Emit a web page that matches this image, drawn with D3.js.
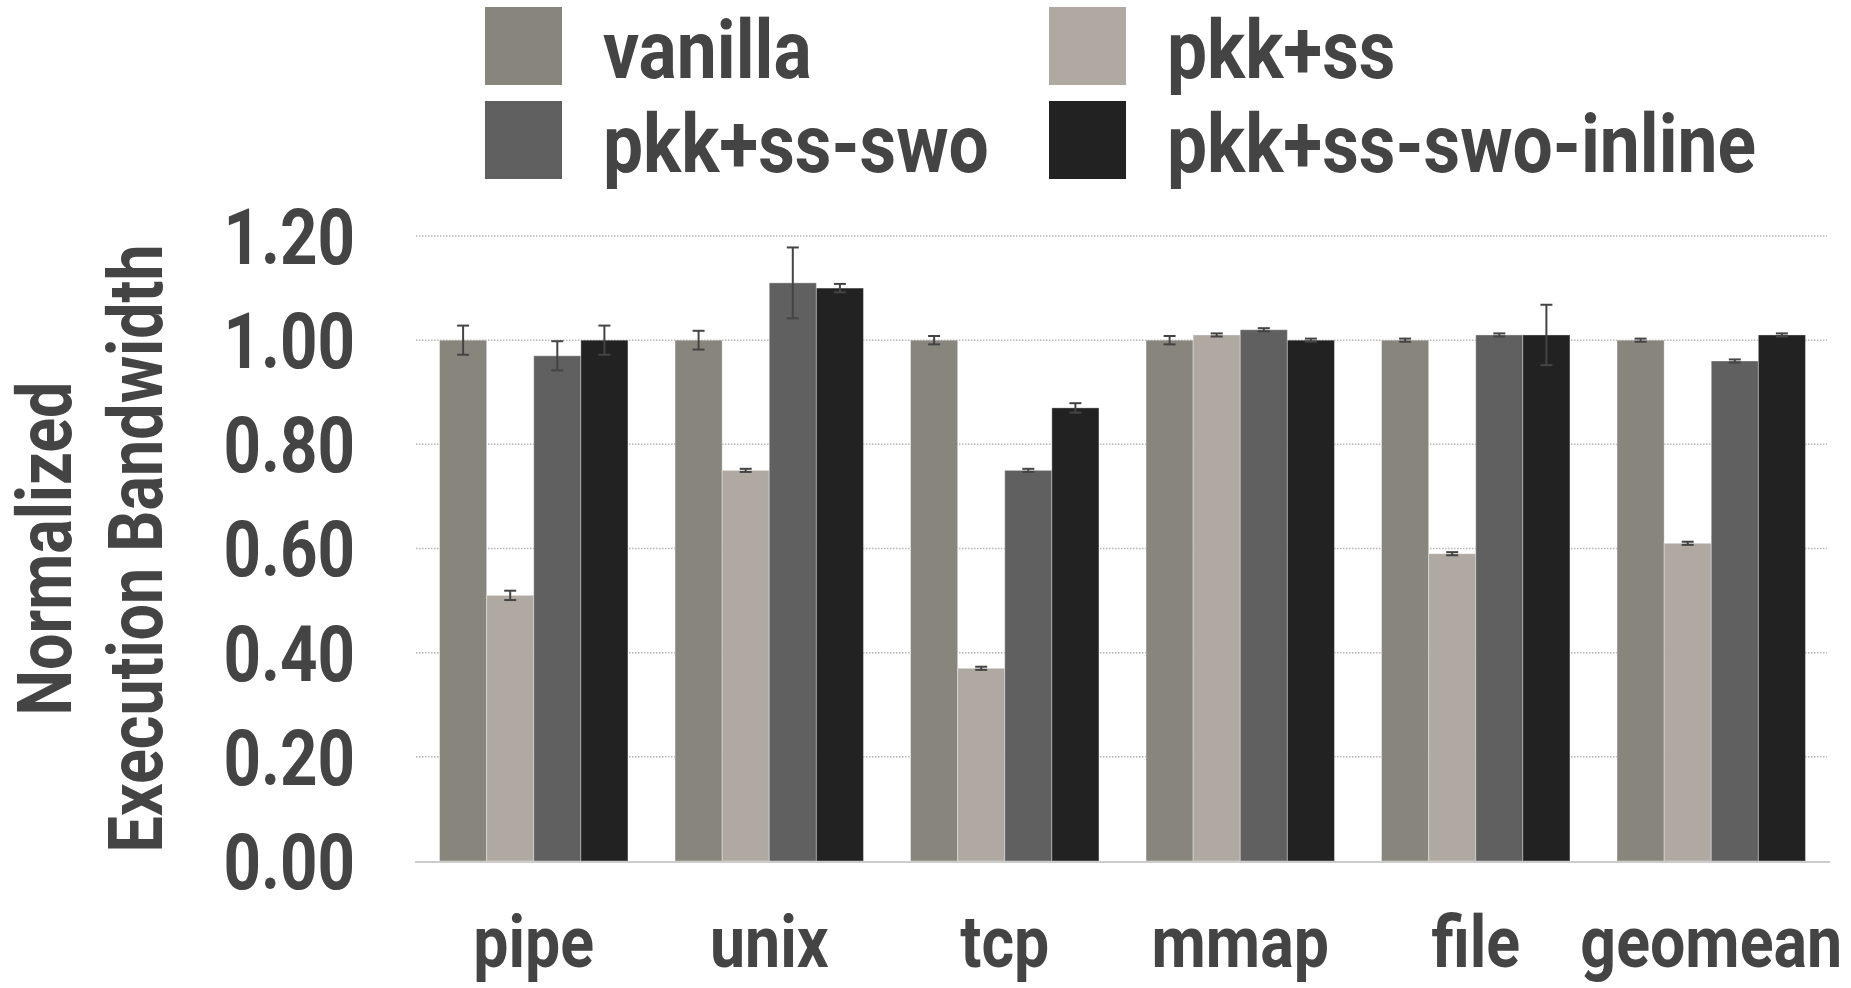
<!DOCTYPE html>
<html>
<head>
<meta charset="utf-8">
<script src="https://cdn.jsdelivr.net/npm/d3@7"></script>
<style>
  body { margin: 0; background: #fff; }
  text { font-family: Roboto, "Liberation Sans", sans-serif; font-weight: bold; fill: #444; }
</style>
</head>
<body>
<div id="chart"></div>
<script>
const categories = ['pipe', 'unix', 'tcp', 'mmap', 'file', 'geomean'];
const seriesNames = ['vanilla', 'pkk+ss', 'pkk+ss-swo', 'pkk+ss-swo-inline'];
const seriesColors = ['#88857d', '#afa9a2', '#606060', '#222222'];

const vanilla = [1.00, 1.00, 1.00, 1.00, 1.00, 1.00];
const pkkSs = [0.51, 0.75, 0.37, 1.01, 0.59, 0.61];
const pkkSsSwo = [0.97, 1.11, 0.75, 1.02, 1.01, 0.96];
const pkkSsSwoInline = [1.00, 1.10, 0.87, 1.00, 1.01, 1.01];

const vanillaErr = [0.028, 0.018, 0.008, 0.008, 0.003, 0.003];
const pkkSsErr = [0.009, 0.003, 0.003, 0.003, 0.003, 0.003];
const pkkSsSwoErr = [0.028, 0.068, 0.003, 0.003, 0.003, 0.003];
const pkkSsSwoInlineErr = [0.028, 0.008, 0.009, 0.003, 0.058, 0.003];

const yTicks = [0, 0.2, 0.4, 0.6, 0.8, 1.0, 1.2];

const values = [vanilla, pkkSs, pkkSsSwo, pkkSsSwoInline];
const errors = [vanillaErr, pkkSsErr, pkkSsSwoErr, pkkSsSwoInlineErr];

const width = 1851, height = 988;
const plot = {left: 416, right: 1829, top: 236, bottom: 861};
// the original uses a condensed face; squeeze Roboto horizontally
const squeeze = 0.85;

const svg = d3.select('#chart').append('svg')
    .attr('width', width)
    .attr('height', height);

const x0 = d3.scaleBand()
    .domain(categories)
    .range([plot.left, plot.right])
    .paddingInner(0.2)
    .paddingOuter(0.1);

const x1 = d3.scaleBand()
    .domain(seriesNames)
    .range([0, x0.bandwidth()]);

const y = d3.scaleLinear()
    .domain([0, 1.2])
    .range([plot.bottom, plot.top]);

// dotted grid
svg.append('g')
    .selectAll('line')
    .data(yTicks.filter(d => d > 0))
    .join('line')
    .attr('x1', plot.left)
    .attr('x2', plot.right - 2)
    .attr('y1', d => y(d))
    .attr('y2', d => y(d))
    .attr('stroke', '#b8b8b8')
    .attr('stroke-width', 1.5)
    .attr('stroke-dasharray', '1.5,1.5');

// y tick labels
const yAxis = d3.axisLeft(y)
    .tickValues(yTicks)
    .tickFormat(d3.format('.2f'))
    .tickSize(0)
    .tickPadding(0);

const yg = svg.append('g')
    .attr('transform', 'translate(355,0)')
    .call(yAxis);
yg.select('.domain').remove();
yg.attr('font-family', null).attr('font-size', null);
yg.selectAll('text')
    .attr('font-size', 77)
    .attr('dy', '0.355em')
    .attr('transform', `scale(${squeeze},1)`);

// bars
const groups = svg.append('g')
    .selectAll('g')
    .data(categories)
    .join('g')
    .attr('transform', c => `translate(${x0(c)},0)`);

const cells = (c, ci) => seriesNames.map((s, si) => ({s, si, v: values[si][ci], e: errors[si][ci]}));

groups.selectAll('rect')
    .data(cells)
    .join('rect')
    .attr('x', d => x1(d.s))
    .attr('y', d => y(d.v))
    .attr('width', x1.bandwidth())
    .attr('height', d => y(0) - y(d.v))
    .attr('fill', d => seriesColors[d.si])
    .attr('stroke', 'rgba(255,255,255,0.35)')
    .attr('stroke-width', 1);

// error bars
const eb = groups.selectAll('g.err')
    .data(cells)
    .join('g')
    .attr('class', 'err')
    .attr('stroke', '#444')
    .attr('stroke-width', 2);

const cx = d => x1(d.s) + x1.bandwidth() / 2;
eb.append('line')
    .attr('x1', cx).attr('x2', cx)
    .attr('y1', d => y(d.v + d.e)).attr('y2', d => y(d.v - d.e));
eb.append('line')
    .attr('x1', d => cx(d) - 6).attr('x2', d => cx(d) + 6)
    .attr('y1', d => y(d.v + d.e)).attr('y2', d => y(d.v + d.e));
eb.append('line')
    .attr('x1', d => cx(d) - 6).attr('x2', d => cx(d) + 6)
    .attr('y1', d => y(d.v - d.e)).attr('y2', d => y(d.v - d.e));

// baseline
svg.append('line')
    .attr('x1', plot.left - 1)
    .attr('x2', plot.right + 1)
    .attr('y1', y(0) + 1)
    .attr('y2', y(0) + 1)
    .attr('stroke', '#cccccc')
    .attr('stroke-width', 2);

// x labels
const xAxis = d3.axisBottom(x0).tickSize(0).tickPadding(0);
const xg = svg.append('g')
    .attr('transform', 'translate(0,967)')
    .call(xAxis);
xg.select('.domain').remove();
xg.attr('font-family', null).attr('font-size', null);
xg.selectAll('text')
    .attr('font-size', 73)
    .attr('dy', 0)
    .attr('y', 0)
    .attr('x', 0)
    .attr('transform', `scale(${squeeze * 1.01},1)`);

// y axis title
const title = svg.append('text')
    .attr('transform', `translate(0,${(plot.top + plot.bottom) / 2}) rotate(-90) scale(${squeeze},1)`)
    .attr('text-anchor', 'middle')
    .attr('font-size', 76);
title.append('tspan').attr('x', 0).attr('y', 71).text('Normalized');
title.append('tspan').attr('x', 0).attr('y', 162).text('Execution Bandwidth');

// legend
const legendPos = [
    {x: 485, y: 7}, {x: 1049, y: 7},
    {x: 485, y: 101}, {x: 1049, y: 101}
];
const legend = svg.append('g')
    .selectAll('g')
    .data(seriesNames)
    .join('g')
    .attr('transform', (d, i) => `translate(${legendPos[i].x},${legendPos[i].y})`);
legend.append('rect')
    .attr('width', 77)
    .attr('height', 78)
    .attr('fill', (d, i) => seriesColors[i]);
legend.append('text')
    .attr('transform', `translate(118,71) scale(0.87,1)`)
    .attr('font-size', 82)
    .text(d => d);
</script>
</body>
</html>
